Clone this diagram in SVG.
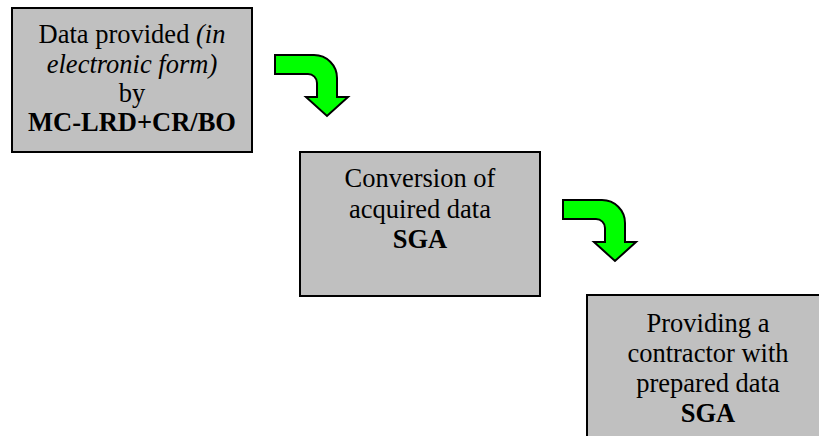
<svg xmlns="http://www.w3.org/2000/svg" width="819" height="436" viewBox="0 0 819 436">
  <style>
    .box { fill: #c0c0c0; stroke: #000; stroke-width: 2; }
    .lbl { font-family: "Liberation Serif", "Times New Roman", serif; font-size: 26.5px; fill: #000; text-anchor: middle; }
    .b { font-weight: bold; }
    .i { font-style: italic; }
    .flow { fill: #00ff00; stroke: #000; stroke-width: 2; stroke-linejoin: miter; }
  </style>
  <defs>
    <!-- bent arrow: runs right, curves down, ends in a head -->
    <path id="bend" d="M275,55 H314 A23,23 0 0 1 337,78 V97 H348 L327,116 L306,97 H317 V83 A9,9 0 0 0 308,74 H275 Z"/>
  </defs>
  <rect width="819" height="436" fill="#fff"/>

  <g id="connectors">
    <use href="#bend" class="flow"/>
    <use href="#bend" class="flow" transform="translate(288,145)"/>
  </g>

  <g id="node-data-provided">
    <rect class="box" x="12" y="8" width="240" height="144"/>
    <text class="lbl" x="132" y="43">Data provided <tspan class="i">(in</tspan></text>
    <text class="lbl i" x="132" y="72.5">electronic form)</text>
    <text class="lbl" x="132" y="102">by</text>
    <text class="lbl b" x="132" y="131">MC-LRD+CR/BO</text>
  </g>

  <g id="node-conversion">
    <rect class="box" x="300" y="152" width="240" height="144"/>
    <text class="lbl" x="420" y="187">Conversion of</text>
    <text class="lbl" x="420" y="217.5">acquired data</text>
    <text class="lbl b" x="420" y="248">SGA</text>
  </g>

  <g id="node-providing">
    <rect class="box" x="587" y="295" width="242" height="160"/>
    <text class="lbl" x="708" y="332">Providing a</text>
    <text class="lbl" x="708" y="362">contractor with</text>
    <text class="lbl" x="708" y="391.5">prepared data</text>
    <text class="lbl b" x="708" y="422">SGA</text>
  </g>
</svg>
